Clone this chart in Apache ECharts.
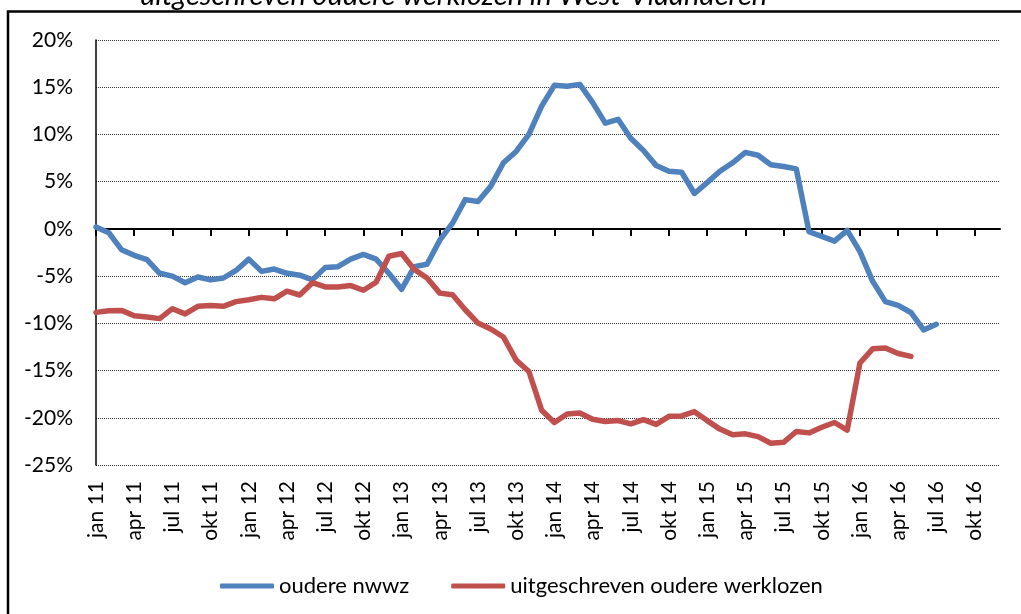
<!DOCTYPE html>
<html>
<head>
<meta charset="utf-8">
<script src="https://cdn.jsdelivr.net/npm/echarts@6/dist/echarts.min.js"></script>
<style>
  html, body { margin: 0; padding: 0; background: #fff; }
  #chart { width: 1021px; height: 614px; }
</style>
</head>
<body>
<div id="chart"></div>
<script>
// maanden jan 11 .. dec 16
const monthNames = ["jan", "feb", "mrt", "apr", "mei", "jun", "jul", "aug", "sep", "okt", "nov", "dec"];
const years = ["11", "12", "13", "14", "15", "16"];
const months = [];
years.forEach((y) => monthNames.forEach((m) => months.push(m + " " + y)));

// procentuele evolutie t.o.v. vorig jaar
const oudereNwwz = [
  0.2, -0.4, -2.2, -2.8, -3.25, -4.7, -5.0, -5.7, -5.1, -5.4,
  -5.2, -4.4, -3.2, -4.5, -4.25, -4.7, -4.9, -5.4, -4.1, -4.0,
  -3.2, -2.7, -3.2, -4.7, -6.4, -4.0, -3.75, -1.2, 0.6, 3.1,
  2.9, 4.5, 7.0, 8.2, 10.0, 13.0, 15.2, 15.1, 15.3, 13.4,
  11.2, 11.6, 9.6, 8.3, 6.7, 6.1, 6.0, 3.75, 4.9, 6.1,
  7.0, 8.1, 7.8, 6.8, 6.6, 6.35, -0.3, -0.8, -1.3, -0.15,
  -2.4, -5.55, -7.7, -8.1, -8.85, -10.7, -10.1,
];
const uitgeschreven = [
  -8.84, -8.66, -8.63, -9.2, -9.33, -9.5, -8.45, -9.0, -8.2, -8.1,
  -8.2, -7.7, -7.5, -7.25, -7.4, -6.6, -7.0, -5.7, -6.15, -6.15,
  -6.0, -6.5, -5.65, -2.9, -2.6, -4.3, -5.2, -6.8, -6.97, -8.56,
  -9.97, -10.6, -11.45, -13.9, -15.1, -19.2, -20.5, -19.6, -19.5, -20.15,
  -20.4, -20.3, -20.65, -20.2, -20.7, -19.85, -19.8, -19.35, -20.3, -21.2,
  -21.8, -21.7, -22.0, -22.7, -22.6, -21.45, -21.6, -21.0, -20.5, -21.3,
  -14.2, -12.7, -12.6, -13.2, -13.5,
];

const font = "Lato, 'Open Sans', sans-serif";

const chart = echarts.init(document.getElementById("chart"));

const option = {
  animation: false,
  textStyle: { fontFamily: font },
  graphic: [
    {
      type: "rect",
      silent: true,
      shape: { x: 8, y: 11.5, width: 1100, height: 700 },
      style: { fill: "none", stroke: "#000", lineWidth: 2.5 },
    },
    {
      type: "text",
      silent: true,
      x: 140,
      y: 10,
      style: {
        text: "uitgeschreven oudere werklozen in West-Vlaanderen",
        font: "italic 29px " + font,
        fill: "#000",
        verticalAlign: "bottom",
      },
    },
  ],
  grid: { left: 96, right: 21, top: 40, bottom: 149 },
  legend: {
    left: 215,
    top: 570,
    itemWidth: 54,
    itemHeight: 5,
    itemGap: 42,
    icon: "roundRect",
    textStyle: { fontSize: 22, color: "#000", fontFamily: font },
    data: ["oudere nwwz", "uitgeschreven oudere werklozen"],
  },
  xAxis: [
    {
      type: "category",
      data: months,
      boundaryGap: false,
      axisLine: { onZero: true, lineStyle: { color: "#000", width: 2 } },
      axisTick: { interval: 2, length: 7, lineStyle: { color: "#000", width: 2 } },
      axisLabel: { show: false },
      splitLine: { show: false },
    },
    {
      type: "category",
      data: months,
      position: "bottom",
      boundaryGap: false,
      axisLine: { show: false, onZero: false },
      axisTick: { show: false },
      axisLabel: {
        interval: 2,
        rotate: 90,
        margin: 16,
        fontSize: 21,
        color: "#000",
        fontFamily: font,
      },
    },
  ],
  yAxis: {
    type: "value",
    min: -25,
    max: 20,
    interval: 5,
    axisLine: { show: true, onZero: false, lineStyle: { color: "#000", width: 1.5 } },
    axisTick: { show: false },
    axisLabel: {
      formatter: "{value}%",
      margin: 23,
      fontSize: 21,
      color: "#000",
      fontFamily: font,
    },
    splitLine: { lineStyle: { color: "#333", type: "dotted", width: 1 } },
  },
  series: [
    {
      name: "oudere nwwz",
      type: "line",
      data: oudereNwwz,
      showSymbol: false,
      color: "#4F81BD",
      lineStyle: { width: 5.5, color: "#4F81BD", cap: "round", join: "round" },
    },
    {
      name: "uitgeschreven oudere werklozen",
      type: "line",
      data: uitgeschreven,
      showSymbol: false,
      color: "#C0504D",
      lineStyle: { width: 5.5, color: "#C0504D", cap: "round", join: "round" },
    },
  ],
};

chart.setOption(option);
</script>
</body>
</html>
